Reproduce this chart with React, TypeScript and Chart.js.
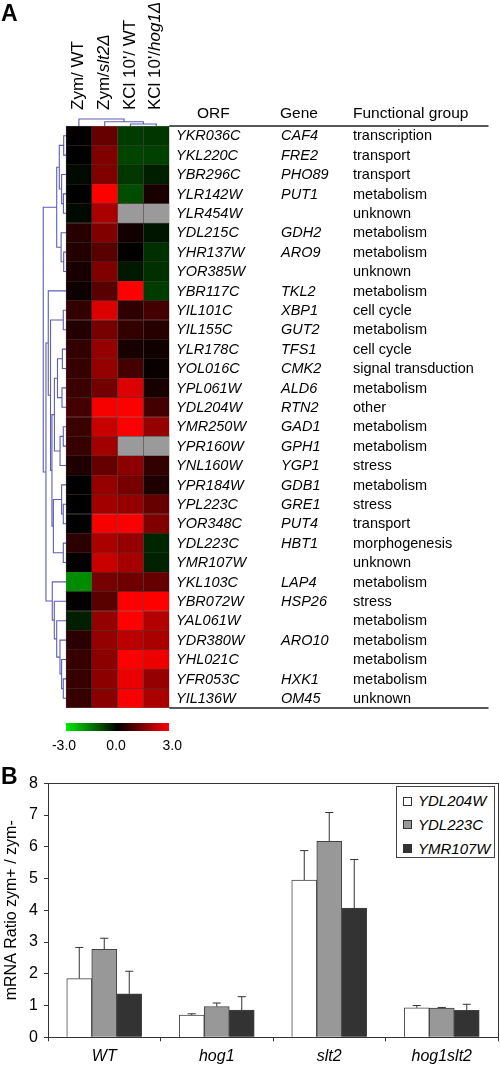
import React, { useEffect, useRef } from 'react';
import { Chart, registerables } from 'chart.js';

Chart.register(...registerables);

// ---------- Panel A data ----------
const conditionLabels: string[][] = [
  ['Zym/ WT'],
  ['Zym/', 'slt2Δ'],
  ["KCl 10'/ WT"],
  ["KCl 10'/", 'hog1Δ'],
];
const orfs = [
  'YKR036C', 'YKL220C', 'YBR296C', 'YLR142W', 'YLR454W', 'YDL215C', 'YHR137W', 'YOR385W',
  'YBR117C', 'YIL101C', 'YIL155C', 'YLR178C', 'YOL016C', 'YPL061W', 'YDL204W', 'YMR250W',
  'YPR160W', 'YNL160W', 'YPR184W', 'YPL223C', 'YOR348C', 'YDL223C', 'YMR107W', 'YKL103C',
  'YBR072W', 'YAL061W', 'YDR380W', 'YHL021C', 'YFR053C', 'YIL136W',
];
const genes = [
  'CAF4', 'FRE2', 'PHO89', 'PUT1', '', 'GDH2', 'ARO9', '',
  'TKL2', 'XBP1', 'GUT2', 'TFS1', 'CMK2', 'ALD6', 'RTN2', 'GAD1',
  'GPH1', 'YGP1', 'GDB1', 'GRE1', 'PUT4', 'HBT1', '', 'LAP4',
  'HSP26', '', 'ARO10', '', 'HXK1', 'OM45',
];
const groups = [
  'transcription', 'transport', 'transport', 'metabolism', 'unknown', 'metabolism', 'metabolism', 'unknown',
  'metabolism', 'cell cycle', 'metabolism', 'cell cycle', 'signal transduction', 'metabolism', 'other', 'metabolism',
  'metabolism', 'stress', 'metabolism', 'stress', 'transport', 'morphogenesis', 'unknown', 'metabolism',
  'stress', 'metabolism', 'metabolism', 'metabolism', 'metabolism', 'unknown',
];
// log-ratio values (null = missing, drawn gray)
const zymWT: (number | null)[] = [
  0.05, 0.0, -0.1, 0.0, -0.1, 0.45, 0.4, 0.3, 0.15, 0.6, 0.4, 0.6, 0.65, 0.7, 0.8, 0.7,
  0.65, 0.35, 0.0, 0.0, 0.0, 0.5, 0.05, -1.65, 0.05, -0.35, 0.5, 0.65, 0.65, 0.65,
];
const zymSlt2: (number | null)[] = [
  1.2, 1.5, 1.5, 3.0, 2.0, 1.5, 1.05, 1.5, 1.05, 2.6, 1.4, 1.75, 1.75, 1.35, 2.9, 2.35,
  1.9, 1.2, 1.75, 1.9, 2.9, 2.0, 2.35, 1.4, 1.05, 1.75, 1.75, 1.65, 1.65, 1.6,
];
const kclWT: (number | null)[] = [
  -0.7, -0.8, -0.65, -0.9, null, 0.2, 0.0, -0.3, 3.0, 0.55, 0.6, 0.3, 0.8, 2.6, 3.0, 2.95,
  null, 1.65, 1.4, 1.75, 2.95, 1.75, 1.95, 1.3, 3.0, 3.0, 2.2, 3.0, 2.75, 2.9,
];
const kclHog1: (number | null)[] = [
  -0.65, -0.75, -0.35, 0.3, null, -0.25, -0.55, -0.55, -0.7, 0.8, 0.45, 0.2, 0.1, 0.3, 0.8, 1.75,
  null, 0.6, 0.35, 1.2, 1.5, -0.45, -0.4, 1.2, 3.0, 2.1, 2.0, 2.8, 1.75, 2.0,
];
// gene tree merges: [childA, childB, height]  (leaves 0..29, merged nodes 30..)
const rowMerges: number[][] = [
  [0, 1, -0.09], [3, 4, -0.1], [2, 31, -0.17], [30, 32, -0.26], [6, 7, -0.09], [5, 34, -0.19],
  [33, 35, -0.36], [9, 10, -0.105], [11, 12, -0.14], [13, 14, -0.155], [38, 39, -0.33],
  [15, 16, -0.105], [41, 17, -0.23], [40, 42, -0.45], [19, 20, -0.105], [18, 44, -0.17],
  [21, 22, -0.105], [45, 46, -0.49], [43, 47, -0.545], [37, 48, -0.6], [8, 49, -0.687],
  [28, 29, -0.105], [27, 51, -0.17], [26, 52, -0.233], [25, 53, -0.36], [24, 54, -0.454],
  [23, 55, -0.532], [50, 56, -0.777], [36, 57, -0.882],
];
// array tree merges: [childA, childB, height]  (leaves 0..3)
const colMerges: number[][] = [[2, 3, -0.1], [1, 4, -0.22], [0, 5, -0.36]];
const scaleLabels = ['-3.0', '0.0', '3.0'];

// ---------- Panel B data ----------
const strains = ['WT', 'hog1', 'slt2', 'hog1slt2'];
const seriesNames = ['YDL204W', 'YDL223C', 'YMR107W'];
const ydl204w = [1.85, 0.7, 4.95, 0.93];
const ydl204wErr = [0.98, 0.04, 0.93, 0.07];
const ydl223c = [2.77, 0.97, 6.17, 0.92];
const ydl223cErr = [0.35, 0.11, 0.91, 0.02];
const ymr107w = [1.37, 0.86, 4.07, 0.85];
const ymr107wErr = [0.71, 0.42, 1.53, 0.19];
const yTickMax = 8;

// ---------- layout / style ----------
const FONT = "'Liberation Sans', Arial, Helvetica, sans-serif";
const HM_LEFT = 66;
const COL_W = 25.8;
const HM_TOP = 126;
const ROW_H = 19.4;
const TABLE_RIGHT = 488.5;
const HEAT_H = 715;
const BAR_TOP = 760;
const BAR_H = 306;
const TREE_COLOR = 'rgba(75,75,175,0.9)';
const barFills = ['#ffffff', '#989898', '#333333'];

function cellColor(v: number | null): string {
  if (v === null) return 'rgb(154,154,154)';
  const t = Math.max(-1, Math.min(1, v / 3));
  return t >= 0 ? `rgb(${Math.round(t * 255)},0,0)` : `rgb(0,${Math.round(-t * 255)},0)`;
}

function rowTreePoints() {
  const nodes = orfs.map((_, r) => ({ x: 0, y: r + 0.5 }));
  const pts: any[] = [];
  rowMerges.forEach(([a, b, h]) => {
    const A = nodes[a];
    const B = nodes[b];
    pts.push({ x: A.x, y: A.y }, { x: h, y: A.y }, { x: h, y: B.y }, { x: B.x, y: B.y }, { x: h, y: null });
    nodes.push({ x: h, y: (A.y + B.y) / 2 });
  });
  return pts;
}

function colTreePoints() {
  const nodes = conditionLabels.map((_, c) => ({ x: c + 0.5, y: 0 }));
  const pts: any[] = [];
  colMerges.forEach(([a, b, h]) => {
    const A = nodes[a];
    const B = nodes[b];
    pts.push({ x: A.x, y: A.y }, { x: A.x, y: h }, { x: B.x, y: h }, { x: B.x, y: B.y }, { x: A.x, y: null });
    nodes.push({ x: (A.x + B.x) / 2, y: h });
  });
  return pts;
}

function heatConfig(): any {
  const heat = [zymWT, zymSlt2, kclWT, kclHog1];
  const n = orfs.length;
  const xMin = -1;
  const xMax = xMin + (TABLE_RIGHT - (HM_LEFT - COL_W)) / COL_W;
  const yMin = -0.5;
  return {
    type: 'bar',
    data: {
      datasets: [
        ...heat.map((col, c) => ({
          type: 'bar',
          label: conditionLabels[c].join(''),
          data: col.map((_, r) => ({ x: c + 0.5, y: [r, r + 1] })),
          backgroundColor: col.map(cellColor),
          borderColor: 'rgba(25,0,0,0.6)',
          borderWidth: 0.5,
          borderSkipped: false,
          grouped: false,
          barPercentage: 1,
          categoryPercentage: 1,
        })),
        {
          type: 'line', label: 'gene tree', data: rowTreePoints(), borderColor: TREE_COLOR,
          borderWidth: 1.1, pointRadius: 0, spanGaps: false, fill: false, tension: 0,
        },
        {
          type: 'line', label: 'array tree', data: colTreePoints(), borderColor: TREE_COLOR,
          borderWidth: 1.1, pointRadius: 0, spanGaps: false, fill: false, tension: 0,
        },
        {
          type: 'line', label: 'rules',
          data: [
            { x: heat.length, y: 0 }, { x: xMax, y: 0 }, { x: heat.length, y: null },
            { x: heat.length, y: n }, { x: xMax, y: n },
          ],
          borderColor: '#222', borderWidth: 1.4, pointRadius: 0, spanGaps: false, fill: false, clip: false,
        },
      ],
    },
    options: {
      responsive: false,
      animation: false,
      events: [],
      layout: {
        padding: {
          left: HM_LEFT - COL_W,
          right: 500 - TABLE_RIGHT,
          top: HM_TOP + yMin * ROW_H,
          bottom: HEAT_H - (HM_TOP + n * ROW_H),
        },
      },
      plugins: { legend: { display: false }, tooltip: { enabled: false } },
      scales: {
        x: {
          type: 'linear', display: false, min: xMin, max: xMax, offset: false,
          afterBuildTicks: (s: any) => { s.ticks = []; },
        },
        y: { type: 'linear', display: false, min: yMin, max: n, reverse: true },
      },
    },
  };
}

function barConfig(): any {
  const series = [ydl204w, ydl223c, ymr107w];
  const errs = [ydl204wErr, ydl223cErr, ymr107wErr];
  const groupFrac = 2 / 3;
  const barW = groupFrac / series.length;
  const cap = 0.036;
  const xOf = (g: number, s: number) => g + (s - (series.length - 1) / 2) * barW;
  const pts: any[] = [];
  strains.forEach((_, g) => {
    series.forEach((vals, s) => {
      const x = xOf(g, s);
      const top = vals[g] + errs[s][g];
      pts.push({ x, y: vals[g] }, { x, y: top }, { x, y: null },
        { x: x - cap, y: top }, { x: x + cap, y: top }, { x, y: null });
    });
  });
  const axisColor = '#333';
  return {
    type: 'bar',
    data: {
      labels: strains,
      datasets: [
        ...series.map((vals, s) => ({
          type: 'bar',
          label: seriesNames[s],
          data: vals.map((v, g) => ({ x: xOf(g, s), y: v })),
          backgroundColor: barFills[s],
          borderColor: '#444',
          borderWidth: 1,
          grouped: false,
          categoryPercentage: 1,
          barPercentage: 1,
          xAxisID: 'xe',
          yAxisID: 'y',
        })),
        {
          type: 'line', label: 'error', data: pts, xAxisID: 'xe', yAxisID: 'y',
          borderColor: '#333', borderWidth: 1, pointRadius: 0, spanGaps: false, fill: false, order: -1,
        },
      ],
    },
    options: {
      responsive: false,
      animation: false,
      events: [],
      layout: { padding: { left: 0, right: 2, top: 23.3, bottom: 0 } },
      plugins: { legend: { display: false }, tooltip: { enabled: false } },
      scales: {
        x: {
          type: 'category', position: 'bottom', offset: true,
          grid: { display: true, offset: true, drawOnChartArea: false, drawTicks: true, tickLength: 4, color: axisColor },
          border: { display: true, color: axisColor, width: 1 },
          ticks: { font: { family: FONT, size: 16, style: 'italic' }, color: '#000', padding: 6, maxRotation: 0, autoSkip: false },
          afterFit: (s: any) => { s.height = 28.7; },
        },
        y: {
          type: 'linear', position: 'left', min: 0, max: yTickMax,
          ticks: { stepSize: 1, font: { family: FONT, size: 16 }, color: '#000', padding: 6 },
          grid: { display: true, drawOnChartArea: false, drawTicks: true, tickLength: 4, color: axisColor },
          border: { display: true, color: axisColor, width: 1 },
          title: {
            display: true, text: 'mRNA Ratio zym+ / zym-', color: '#000',
            font: { family: FONT, size: 16 }, padding: { top: 1.5, bottom: 0 },
          },
          afterFit: (s: any) => { s.width = 48; },
        },
        x2: {
          type: 'category', position: 'top',
          grid: { display: false }, ticks: { display: false },
          border: { display: true, color: axisColor, width: 1 },
          afterFit: (s: any) => { s.height = 0; },
        },
        y2: {
          type: 'linear', position: 'right', min: 0, max: yTickMax,
          grid: { display: false }, ticks: { display: false },
          border: { display: true, color: axisColor, width: 1 },
          afterFit: (s: any) => { s.width = 0; },
        },
        xe: {
          type: 'linear', display: false, offset: false, min: -0.5, max: strains.length - 0.5,
          afterBuildTicks: (s: any) => { s.ticks = []; },
        },
      },
    },
  };
}

export default function App() {
  const heatRef = useRef<HTMLCanvasElement>(null);
  const barRef = useRef<HTMLCanvasElement>(null);

  useEffect(() => {
    const charts: Chart[] = [];
    if (heatRef.current) charts.push(new Chart(heatRef.current, heatConfig()));
    if (barRef.current) charts.push(new Chart(barRef.current, barConfig()));
    return () => charts.forEach((c) => c.destroy());
  }, []);

  const abs = (extra: React.CSSProperties): React.CSSProperties => ({
    position: 'absolute', whiteSpace: 'nowrap', margin: 0, ...extra,
  });
  const rowFs = 14.5;
  const headFs = 15.5;
  const rowTop = (i: number) => HM_TOP + ROW_H * (i + 0.5) - rowFs / 2;
  const scaleCenters = [HM_LEFT - 2, HM_LEFT + 2 * COL_W - 1.5, HM_LEFT + 4 * COL_W + 3];

  return (
    <div style={{ position: 'absolute', left: 0, top: 0, width: 500, height: 1066, background: '#fff', overflow: 'hidden', fontFamily: FONT, color: '#000' }}>
      <canvas ref={heatRef} width={500} height={HEAT_H} style={{ position: 'absolute', left: 0, top: 0, width: 500, height: HEAT_H }} />
      <canvas ref={barRef} width={500} height={BAR_H} style={{ position: 'absolute', left: 0, top: BAR_TOP, width: 500, height: BAR_H }} />

      <div style={abs({ left: 1, top: 2, fontSize: 23, lineHeight: '23px', fontWeight: 'bold' })}>A</div>
      <div style={abs({ left: 1, top: 765, fontSize: 23, lineHeight: '23px', fontWeight: 'bold' })}>B</div>

      {conditionLabels.map((parts, c) => (
        <div key={'cl' + c} style={abs({
          left: HM_LEFT + COL_W * (c + 0.5) - 10, top: 110, fontSize: 17, lineHeight: '17px',
          transform: 'rotate(-90deg)', transformOrigin: '0 0',
        })}>
          {parts[0]}{parts[1] ? <i>{parts[1]}</i> : null}
        </div>
      ))}

      <div style={abs({ left: 197, top: 105, fontSize: headFs, lineHeight: headFs + 'px' })}>ORF</div>
      <div style={abs({ left: 280, top: 105, fontSize: headFs, lineHeight: headFs + 'px' })}>Gene</div>
      <div style={abs({ left: 353, top: 105, fontSize: headFs, lineHeight: headFs + 'px' })}>Functional group</div>

      {orfs.map((o, i) => (
        <React.Fragment key={'r' + i}>
          <div style={abs({ left: 176, top: rowTop(i), fontSize: rowFs, lineHeight: rowFs + 'px', fontStyle: 'italic' })}>{o}</div>
          <div style={abs({ left: 281, top: rowTop(i), fontSize: rowFs, lineHeight: rowFs + 'px', fontStyle: 'italic' })}>{genes[i]}</div>
          <div style={abs({ left: 353, top: rowTop(i), fontSize: rowFs, lineHeight: rowFs + 'px' })}>{groups[i]}</div>
        </React.Fragment>
      ))}

      <div style={abs({
        left: HM_LEFT, top: 723, width: 4 * COL_W, height: 8,
        background: 'linear-gradient(to right, rgb(0,235,0), rgb(0,0,0) 50%, rgb(255,0,0))',
      })} />
      {scaleLabels.map((t, i) => (
        <div key={'s' + i} style={abs({ left: scaleCenters[i] - 20, width: 40, textAlign: 'center', top: 738, fontSize: 14, lineHeight: '14px' })}>{t}</div>
      ))}

      <div style={abs({ left: 395.5, top: 786, width: 97, height: 70, border: '1px solid #444', background: '#fff' })}>
        {seriesNames.map((s, i) => (
          <div key={'lg' + i} style={abs({ left: 6.5, top: 6 + i * 23.8, height: 16 })}>
            <div style={abs({ left: 0, top: 3.5, width: 7, height: 7, border: '1px solid #333', background: barFills[i] })} />
            <div style={abs({ left: 15, top: 0, fontSize: 15, lineHeight: '16px', fontStyle: 'italic' })}>{s}</div>
          </div>
        ))}
      </div>
    </div>
  );
}
